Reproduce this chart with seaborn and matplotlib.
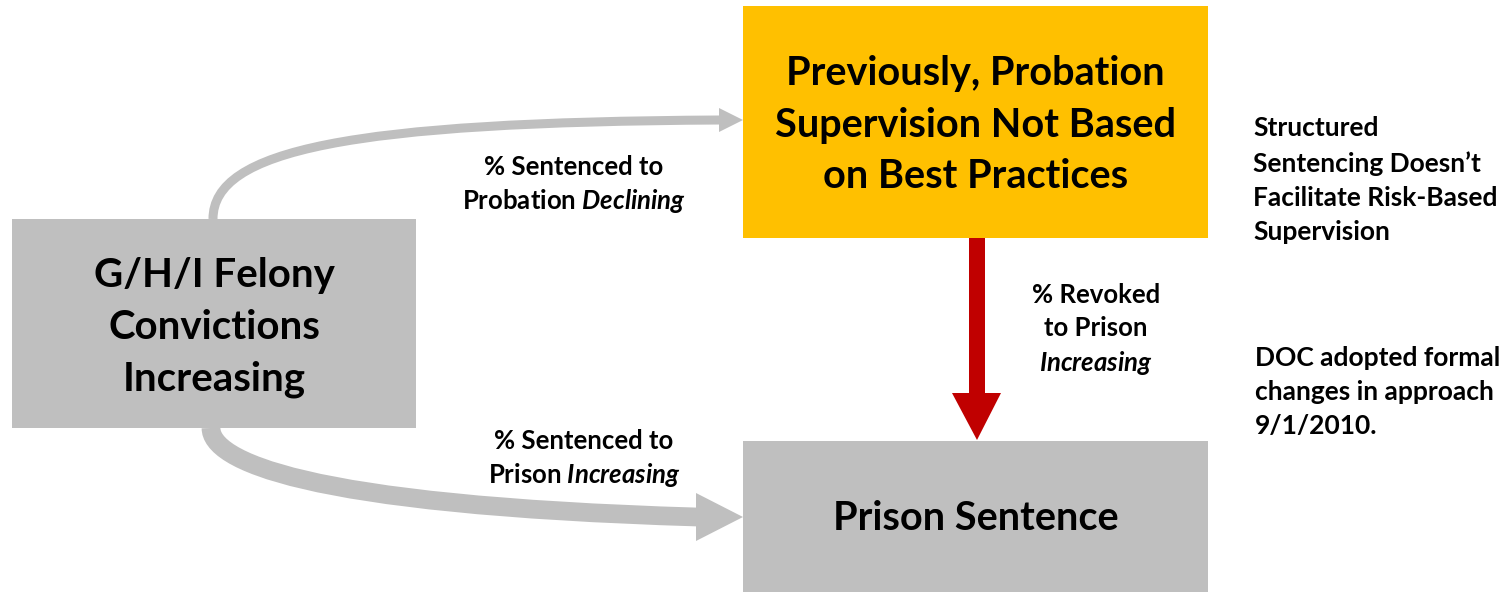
import matplotlib
matplotlib.use("Agg")
import matplotlib.pyplot as plt
import seaborn as sns
from matplotlib.patches import Rectangle, Polygon, PathPatch
from matplotlib.path import Path

sns.set_theme(style="white")
plt.rcParams['font.family'] = ['Lato', 'DejaVu Sans']
plt.rcParams['mathtext.fontset'] = 'custom'
plt.rcParams['mathtext.rm'] = 'Lato:bold'
plt.rcParams['mathtext.bf'] = 'Lato:bold'
plt.rcParams['mathtext.it'] = 'Lato:italic:bold'

# ---- content ----
box_labels = ["G/H/I Felony\nConvictions\nIncreasing",
              "Previously, Probation\nSupervision Not Based\non Best Practices",
              "Prison Sentence"]
box_colors = ["#BFBFBF", "#FFC000", "#BFBFBF"]
flow_labels = ["% Sentenced to\nProbation $\\mathit{Declining}$",
               "% Sentenced to\nPrison $\\mathit{Increasing}$",
               "% Revoked\nto Prison\n$\\mathit{Increasing}$"]
side_notes = ["Structured\nSentencing Doesn\u2019t\nFacilitate Risk-Based\nSupervision",
              "DOC adopted formal\nchanges in approach\n9/1/2010."]

W, H = 1512, 593
fig = plt.figure(figsize=(W / 100, H / 100), dpi=100)
ax = fig.add_axes([0, 0, 1, 1])
ax.set_xlim(0, W)
ax.set_ylim(H, 0)
ax.axis("off")

# boxes (x0, y0, x1, y1) in pixel units
box_geo = [(12, 219, 416, 428), (743, 6, 1208, 238), (743, 441, 1208, 592)]
box_text_dy = [4, 3, 2]
box_fs = [29, 28.5, 28.5]
for (x0, y0, x1, y1), lab, col, fs, dy in zip(box_geo, box_labels, box_colors, box_fs, box_text_dy):
    ax.add_patch(Rectangle((x0, y0), x1 - x0, y1 - y0, facecolor=col, edgecolor="none"))
    ax.text((x0 + x1) / 2, (y0 + y1) / 2 + dy, lab, ha="center", va="center",
            fontsize=fs, fontweight="bold", color="black", linespacing=1.5)

arrow_gray = "#BFBFBF"

def curved_arrow(p0, p1, p2, p3, lw, head_len, head_half, color):
    path = Path([p0, p1, p2, p3], [Path.MOVETO, Path.CURVE4, Path.CURVE4, Path.CURVE4])
    ax.add_patch(PathPatch(path, facecolor="none", edgecolor=color, lw=lw, capstyle="butt"))
    x, y = p3
    ax.add_patch(Polygon([(x - 1, y - head_half), (x + head_len, y), (x - 1, y + head_half)],
                         closed=True, facecolor=color, edgecolor="none"))

# top arrow (to probation)
curved_arrow((213, 219), (213, 150), (350, 122), (720, 120), 6.5, 23, 12, arrow_gray)
# bottom arrow (to prison)
curved_arrow((211, 428), (211, 460), (300, 505), (697, 517), 13.5, 46, 24, arrow_gray)

# red vertical arrow
red = "#C00000"
ax.add_patch(Rectangle((969, 238), 16, 156, facecolor=red, edgecolor="none"))
ax.add_patch(Polygon([(952, 393), (1001, 393), (977, 440)], closed=True,
                     facecolor=red, edgecolor="none"))

# flow labels
flow_pos = [(574, 185), (584, 459), (1096, 330)]
flow_ls = [1.33, 1.33, 1.42]
for (x, y), lab, ls in zip(flow_pos, flow_labels, flow_ls):
    ax.text(x, y, lab, ha="center", va="center", fontsize=18.5, fontweight="bold",
            color="black", linespacing=ls)

# side notes
note_pos = [(1253, 180), (1255, 392)]
for (x, y), lab in zip(note_pos, side_notes):
    ax.text(x, y, lab, ha="left", va="center", fontsize=19, fontweight="bold",
            color="black", linespacing=1.5)

fig.savefig("out.png", dpi=100, facecolor="white")
